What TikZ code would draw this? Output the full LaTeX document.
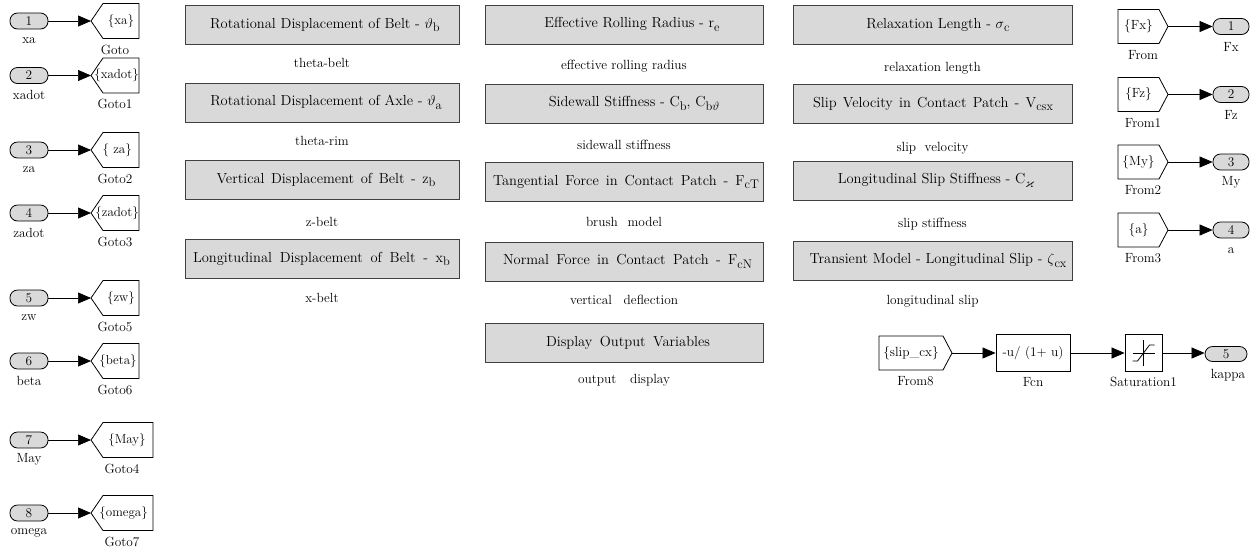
\documentclass[tikz,border=0pt]{standalone}
\usepackage{amssymb}
\usepackage{fontspec}
\usetikzlibrary{arrows.meta,calc}
\definecolor{blockgray}{HTML}{D9D9D9}
\definecolor{edgegray}{HTML}{404040}

% lowered, slightly smaller index used in the block titles
\newcommand\lowsub[1]{\raisebox{-0.55ex}{\fontsize{12.5}{13}\selectfont #1}}
% Goto tag: pointed on the left, tip at the named coordinate
% #3 = width of the square part, #6/#7 = anchor and x offset of the tag text
\newcommand\gotoblock[7]{%
  \coordinate (#1) at #2;
  \draw[tagline] (#1) -- ++(12,-17.5) -- ++(#3,0) -- ++(0,35) -- ++(-#3,0) -- cycle;
  \node[anchor=#6, font=\fontsize{13}{15}\selectfont] (#1-tag) at ($(#1)+(#7,0)$) {#4};
  \node (#1-name) at ($(#1)+(6+#3/2,28.5)$) {#5};
}
% From tag: pointed on the right, tip at the named coordinate; #3 = width of the square part
\newcommand\fromblock[5]{%
  \coordinate (#1) at #2;
  \draw[tagline] (#1) -- ++(-9,-17) -- ++(-#3,0) -- ++(0,34) -- ++(#3,0) -- cycle;
  \node (#1-tag) at ($(#1)+(-9-#3/2,0)$) {#4};
  \node (#1-name) at ($(#1)+(-4.5-#3/2,28.5)$) {#5};
}

\begin{document}
\begin{tikzpicture}[x=1pt,y=-1pt,
  every node/.style={font=\fontsize{13.3}{15}\selectfont, inner sep=0pt},
  titletext/.style={font=\fontsize{14.5}{16}\selectfont},
  tagline/.style={draw=black, fill=white, line width=0.8pt},
  port/.style={draw=black, fill=blockgray, rounded corners=7.5pt,
    minimum width=38pt, minimum height=16pt, line width=0.8pt},
  outport/.style={port, minimum width=36pt},
  sysbox/.style={draw=edgegray, fill=blockgray, line width=1pt, minimum height=39pt},
  plainbox/.style={draw=black, fill=white, line width=0.8pt, minimum height=37pt},
  wire/.style={line width=0.7pt, -{Triangle[length=13pt,width=11pt]}},
]
\useasboundingbox (0,0) rectangle (1255,550);

% ---------- inports and Goto tags ----------
\foreach \n/\yy/\pname/\gw/\ta/\tx/\tag/\gname in {
  1/21/xa/36/center/30/{\{xa\}}/Goto,
  2/75.5/xadot/36/east/48/{\{xadot\}}/Goto1,
  3/150/za/36/east/41/{\{ za\}}/Goto2,
  4/213/zadot/36/east/48/{\{zadot\}}/Goto3,
  5/298/zw/36/center/30/{\{zw\}}/Goto5,
  6/361/beta/36/center/27/{\{beta\}}/Goto6,
  7/440/May/50/center/36/{\{May\}}/Goto4,
  8/513/omega/50/east/57/{\{omega\}}/Goto7}{
  \node[port] (in\n) at (29,\yy) {\n};
  \node (in\n-name) at (29,\yy+19.5) {\pname};
  \gotoblock{gt\n}{(91,\yy)}{\gw}{\tag}{\gname}{\ta}{\tx}
  \draw[wire] (in\n) -- (gt\n);
}

% ---------- subsystem blocks ----------
\foreach \bx/\cx/\cy/\w/\tx/\txt/\ly/\lab in {
  b1/322/25/274/325/{Rotational Displacement of Belt - $\vartheta$\lowsub{b}}/63/theta-belt,
  b2/322/102.5/274/326/{Rotational Displacement of Axle - $\vartheta$\lowsub{a}}/141/theta-rim,
  b3/322/180/274/326/{\makebox[219pt][s]{Vertical Displacement of Belt - z\lowsub{b}}}/222/z-belt,
  b4/322/259/274/321.5/{\makebox[257pt][s]{Longitudinal Displacement of Belt - x\lowsub{b}}}/298/x-belt,
  c1/624/24.5/278/632/{Effective Rolling Radius - r\lowsub{e}}/66/effective rolling radius,
  c2/624/103.5/278/634/{Sidewall Stiffness - C\lowsub{b}, C\lowsub{b$\vartheta$}}/145/sidewall stiffness,
  c3/624/182/278/626/{\makebox[266pt][s]{Tangential Force in Contact Patch - F\lowsub{cT}}}/222/{\makebox[76pt][s]{brush model}},
  c4/624/261.5/278/627.5/{\makebox[249pt][s]{Normal Force in Contact Patch - F\lowsub{cN}}}/300/{\makebox[108pt][s]{vertical deflection}},
  c5/624/343/278/628/{\makebox[164pt][s]{Display Output Variables}}/380/{\makebox[92pt][s]{output display}},
  d1/932.5/25/279/938/{Relaxation Length - $\sigma$\lowsub{c}}/68/relaxation length,
  d2/932.5/104/279/933/{\makebox[240pt][s]{Slip Velocity in Contact Patch - V\lowsub{csx}}}/148/{\makebox[72pt][s]{slip velocity}},
  d3/932.5/180.5/279/936/{Longitudinal Slip Stiffness - C\lowsub{$\varkappa$}}/224/slip stiffness,
  d4/932.5/260.5/279/938/{Transient Model - Longitudinal Slip - $\zeta$\lowsub{cx}}/301/longitudinal slip}{
  \node[sysbox, minimum width=\w pt] (\bx) at (\cx,\cy) {};
  \node[titletext] (\bx-txt) at (\tx,\cy) {\txt};
  \node (\bx-name) at (\cx,\ly) {\lab};
}

% ---------- From tags and outports ----------
\foreach \n/\yy/\tag/\fname/\pname in {
  1/26.5/{\{Fx\}}/From/Fx,
  2/94.5/{\{Fz\}}/From1/Fz,
  3/162/{\{My\}}/From2/My,
  4/230/{\{a\}}/From3/a}{
  \fromblock{fr\n}{(1168,\yy)}{41}{\tag}{\fname}
  \node[outport] (out\n) at (1231,\yy) {\n};
  \node (out\n-name) at (1231,\yy+20.5) {\pname};
  \draw[wire] (fr\n) -- (out\n);
}

% ---------- kappa chain ----------
\fromblock{fr8}{(952,353)}{64}{\{slip\_cx\}}{From8}
\node[plainbox, minimum width=74pt] (fcn) at (1033,353) {-u/ (1+ u)};
\node (fcn-name) at (1033,382) {Fcn};
\node[plainbox, minimum width=37pt] (sat) at (1143.5,353) {};
\node (sat-name) at (1143.5,382) {Saturation1};
\draw[line width=0.6pt] ($(sat.center)+(0,-13)$) -- ($(sat.center)+(0,13)$);
\draw[line width=0.6pt] ($(sat.center)+(-11,0)$) -- ($(sat.center)+(11,0)$);
\draw[line width=0.8pt] ($(sat.center)+(-11,8)$) -- ($(sat.center)+(-6,8)$)
  -- ($(sat.center)+(6,-8)$) -- ($(sat.center)+(11,-8)$);
\node[port, minimum width=42pt, minimum height=15pt] (out5) at (1226,354) {5};
\node (out5-name) at (1228,375) {kappa};
\draw[wire] (fr8) -- (fcn);
\draw[wire] (fcn) -- (sat);
\draw[wire] (sat) -- (out5.west |- sat);
\end{tikzpicture}
\end{document}
